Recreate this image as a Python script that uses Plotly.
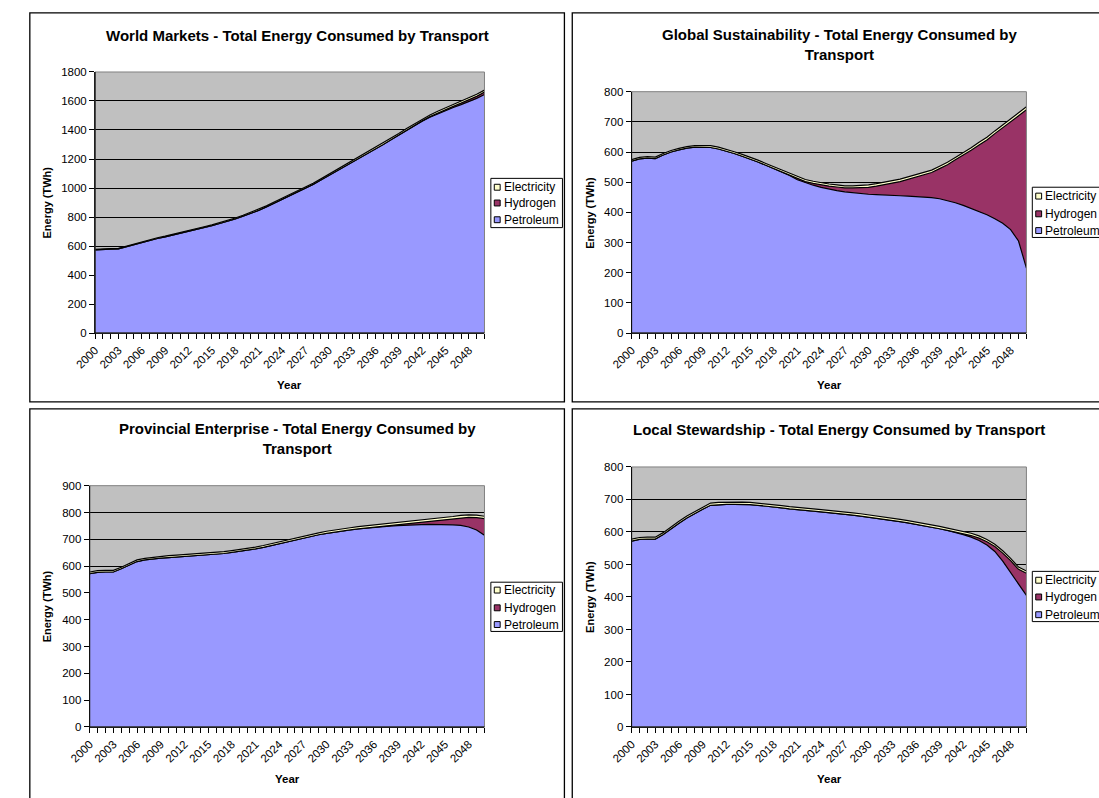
import plotly.graph_objects as go

# ---------------- data ----------------
years = list(range(2000, 2051))
series_names = ["Petroleum", "Hydrogen", "Electricity"]

wm_petroleum = [573, 578, 578, 580, 595, 610, 625, 640, 652, 663,
                675, 688, 700, 713, 727, 740, 755, 770, 787, 806,
                825, 846, 870, 896, 922, 948, 972, 997, 1025, 1055,
                1085, 1115, 1146, 1177, 1208, 1238, 1268, 1300, 1333, 1366,
                1398, 1430, 1460, 1488, 1512, 1535, 1555, 1575, 1595, 1618, 1645]
wm_hydrogen = [0] * 40 + [1, 2, 3, 4, 5, 6, 8, 10, 12, 14, 16]
wm_electricity = [4, 4, 4, 4, 4, 5, 5, 5, 5, 5,
                  5, 5, 5, 5, 6, 6, 6, 6, 6, 6,
                  7, 7, 7, 7, 7, 8, 8, 8, 8, 8,
                  9, 9, 9, 9, 9, 10, 10, 10, 10, 10,
                  11, 11, 11, 12, 12, 12, 13, 13, 13, 14, 14]

gs_petroleum = [570, 577, 580, 578, 590, 600, 607, 613, 616, 616,
                615, 610, 603, 595, 586, 577, 567, 556, 545, 534,
                522, 508, 498, 490, 483, 477, 472, 468, 465, 462,
                460, 459, 457, 456, 455, 454, 453, 452, 449, 445,
                439, 432, 423, 413, 403, 392, 379, 364, 343, 305, 215]
gs_hydrogen = [0] * 20 + [1, 3, 4, 6, 8, 10, 12, 13, 16, 20,
                          23, 28, 34, 41, 47, 55, 63, 71, 83, 100,
                          119, 142, 166, 193, 220, 248, 282, 317, 357, 415, 525]
gs_electricity = [5] * 10 + [6] * 10 + [7] * 10 + [8] * 10 + [8, 8, 8, 8, 9, 9, 9, 9, 9, 10, 10]

pe_petroleum = [572, 577, 578, 578, 590, 605, 617, 623, 627, 630,
                632, 634, 636, 637, 639, 641, 644, 647, 651, 655,
                659, 664, 670, 677, 684, 691, 698, 705, 711, 717,
                722, 727, 731, 735, 739, 742, 745, 747, 749, 751,
                753, 754, 755, 756, 756, 755, 754, 752, 746, 735, 715]
pe_hydrogen = [0] * 36 + [1, 2, 3, 4, 6, 8, 10, 12, 15, 18, 22, 28, 36, 46, 62]
pe_electricity = [6] * 10 + [7] * 20 + [8] * 15 + [9] * 6

ls_petroleum = [572, 577, 578, 578, 592, 610, 627, 643, 657, 670,
                682, 684, 685, 685, 685, 684, 682, 680, 677, 674,
                671, 668, 666, 664, 662, 660, 657, 655, 652, 649,
                646, 643, 640, 636, 632, 628, 624, 619, 615, 610,
                605, 599, 592, 584, 574, 560, 540, 510, 475, 440, 405]
ls_hydrogen = [0] * 41 + [1, 3, 5, 7, 10, 15, 25, 37, 45, 68]
ls_electricity = [6] * 10 + [7] * 41

titles = [
    "World Markets - Total Energy Consumed by Transport",
    "Global Sustainability - Total Energy Consumed by<br>Transport",
    "Provincial Enterprise - Total Energy Consumed by<br>Transport",
    "Local Stewardship - Total Energy Consumed by Transport",
]
y_ranges = [(1800, 200), (800, 100), (900, 100), (800, 100)]
x_tick_step = 3

# ---------------- styling / layout ----------------
W, H = 1099, 798
FONT = "Liberation Sans, Arial, Helvetica, sans-serif"
colors = {"Petroleum": "#9999FF", "Hydrogen": "#993366", "Electricity": "#FFFFCC"}

def fx(p):
    return p / W

def fy(p):
    return 1 - p / H

panels = [
    dict(data=(wm_petroleum, wm_hydrogen, wm_electricity), plot=(75.5, 67, 472.5, 332),
         box=(9, 7, 554, 402), title_xy=(282, 30), ytitle_xy=(26, 200), xtitle_xy=(274, 385),
         legend=(479, 175, 552, 225, [184, 200, 217])),
    dict(data=(gs_petroleum, gs_hydrogen, gs_electricity), plot=(622.5, 87, 1025, 332),
         box=(562, 7, 1110, 402), title_xy=(834, 39.5), ytitle_xy=(580, 210), xtitle_xy=(824, 385),
         legend=(1031, 184, 1110, 235, [193, 211, 228])),
    dict(data=(pe_petroleum, pe_hydrogen, pe_electricity), plot=(70, 487, 472.5, 732),
         box=(9, 409, 554, 810), title_xy=(282, 439.5), ytitle_xy=(26, 610), xtitle_xy=(272, 785),
         legend=(479, 585, 552, 635, [593, 611, 628])),
    dict(data=(ls_petroleum, ls_hydrogen, ls_electricity), plot=(622.5, 468, 1025, 732),
         box=(562, 409, 1110, 810), title_xy=(834, 430), ytitle_xy=(580, 600), xtitle_xy=(824, 785),
         legend=(1031, 574, 1110, 625, [583, 600, 618])),
]

fig = go.Figure()
shapes = []
annotations = []
layout_axes = {}

for i, p in enumerate(panels):
    n = "" if i == 0 else str(i + 1)
    xa, ya = "x" + n, "y" + n
    for name, vals in zip(series_names, p["data"]):
        fig.add_trace(go.Scatter(
            x=years, y=vals, name=name, mode="lines",
            stackgroup="s" + str(i), fillcolor=colors[name],
            line=dict(color="black", width=1.2),
            xaxis=xa, yaxis=ya, showlegend=False, hoverinfo="x+y+name"))
    x0, y0, x1, y1 = p["plot"]
    ymax, ystep = y_ranges[i]
    tickfont = dict(family=FONT, size=11.5, color="black")
    layout_axes["xaxis" + n] = dict(
        domain=[fx(x0), fx(x1)], anchor=ya, range=[2000, 2050], type="linear",
        tickmode="linear", tick0=2000, dtick=x_tick_step, tickangle=-45,
        ticks="outside", ticklen=5, tickcolor="black", tickwidth=1,
        minor=dict(dtick=1, tick0=2000, ticks="outside", ticklen=5, tickcolor="black", showgrid=False),
        showline=True, linecolor="black", linewidth=1, showgrid=False, zeroline=False,
        tickfont=tickfont, fixedrange=True)
    layout_axes["yaxis" + n] = dict(
        domain=[fy(y1), fy(y0)], anchor=xa, range=[0, ymax],
        tickmode="linear", tick0=0, dtick=ystep,
        ticks="outside", ticklen=5, tickcolor="black", tickwidth=1,
        showline=True, linecolor="black", linewidth=1,
        showgrid=True, gridcolor="black", gridwidth=1, zeroline=False,
        tickfont=tickfont, fixedrange=True)
    # gray plot-area border (top / right), black axis lines
    shapes.append(dict(type="rect", xref=xa + " domain", yref=ya + " domain",
                       x0=0, x1=1, y0=0, y1=1, line=dict(color="#808080", width=1), layer="above"))
    shapes.append(dict(type="line", xref=xa + " domain", yref=ya + " domain",
                       x0=0, x1=0, y0=0, y1=1, line=dict(color="black", width=1), layer="above"))
    shapes.append(dict(type="line", xref=xa + " domain", yref=ya + " domain",
                       x0=0, x1=1, y0=0, y1=0, line=dict(color="black", width=1), layer="above"))
    # panel border
    bx0, by0, bx1, by1 = p["box"]
    shapes.append(dict(type="rect", xref="paper", yref="paper",
                       x0=fx(bx0), x1=fx(bx1), y0=fy(by1), y1=fy(by0),
                       line=dict(color="black", width=1.3)))
    # titles
    tx, ty = p["title_xy"]
    annotations.append(dict(text="<b>" + titles[i] + "</b>", xref="paper", yref="paper",
                            x=fx(tx), y=fy(ty), xanchor="center", yanchor="middle",
                            showarrow=False, font=dict(family=FONT, size=15, color="black")))
    ax, ay = p["ytitle_xy"]
    annotations.append(dict(text="<b>Energy (TWh)</b>", xref="paper", yref="paper",
                            x=fx(ax), y=fy(ay), xanchor="center", yanchor="middle", textangle=-90,
                            showarrow=False, font=dict(family=FONT, size=11, color="black")))
    ax, ay = p["xtitle_xy"]
    annotations.append(dict(text="<b>Year</b>", xref="paper", yref="paper",
                            x=fx(ax), y=fy(ay), xanchor="center", yanchor="middle",
                            showarrow=False, font=dict(family=FONT, size=11.5, color="black")))
    # legend box
    lx0, ly0, lx1, ly1, rows = p["legend"]
    shapes.append(dict(type="rect", xref="paper", yref="paper",
                       x0=fx(lx0), x1=fx(lx1), y0=fy(ly1), y1=fy(ly0),
                       fillcolor="white", line=dict(color="black", width=1)))
    for name, ry in zip(["Electricity", "Hydrogen", "Petroleum"], rows):
        shapes.append(dict(type="rect", xref="paper", yref="paper",
                           x0=fx(lx0 + 3.5), x1=fx(lx0 + 9.5), y0=fy(ry + 3), y1=fy(ry - 3),
                           fillcolor=colors[name], line=dict(color="black", width=1)))
        annotations.append(dict(text=name, xref="paper", yref="paper",
                                x=fx(lx0 + 11), y=fy(ry), xanchor="left", yanchor="middle",
                                showarrow=False, font=dict(family=FONT, size=12, color="black")))

fig.update_layout(
    width=W, height=H, margin=dict(l=0, r=0, t=0, b=0, pad=0),
    paper_bgcolor="white", plot_bgcolor="#C0C0C0",
    font=dict(family=FONT, size=11, color="black"),
    showlegend=False, shapes=shapes, annotations=annotations, **layout_axes)

fig.write_html("out.html", config={"displayModeBar": False},
               post_script="document.body.style.margin='0';document.body.style.overflow='hidden';")
